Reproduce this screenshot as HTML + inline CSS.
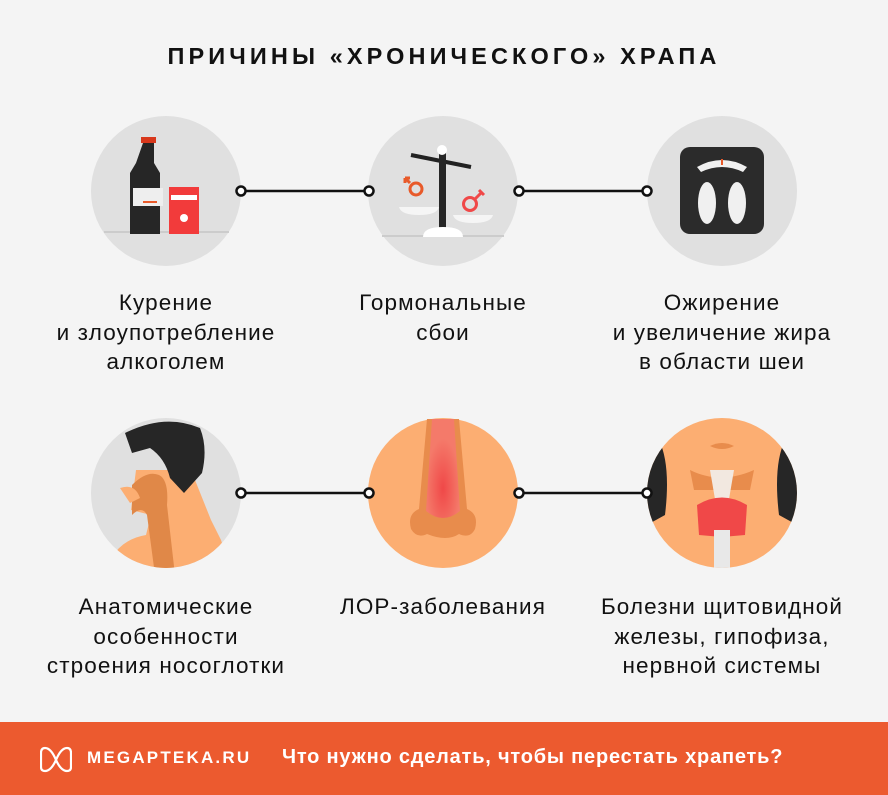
<!DOCTYPE html>
<html><head><meta charset="utf-8"><style>
body{margin:0;width:888px;height:795px;background:#f4f4f4;font-family:"Liberation Sans",sans-serif;overflow:hidden;position:relative}
.t{position:absolute;top:43px;left:0;width:888px;text-align:center;font-weight:bold;font-size:23.5px;letter-spacing:4.1px;color:#111}
.l{position:absolute;width:360px;text-align:center;font-size:22.5px;letter-spacing:1.1px;line-height:29.5px;color:#111}
.f{position:absolute;left:0;top:722px;width:888px;height:73px;background:#ec5a2f;color:#fff;font-weight:bold}
</style></head><body>
<div class="t">ПРИЧИНЫ «ХРОНИЧЕСКОГО» ХРАПА</div>
<svg width="888" height="722" style="position:absolute;left:0;top:0">
<defs><clipPath id="c4"><circle cx="166" cy="493" r="75"/></clipPath><clipPath id="c6"><circle cx="722" cy="493" r="75"/></clipPath>
<radialGradient id="g" cx="0.5" cy="0.7" r="0.5"><stop offset="0" stop-color="#f04848"/><stop offset="1" stop-color="#f47a6a"/></radialGradient></defs>
<circle cx="166" cy="191" r="75" fill="#e0e0e0"/>
<rect x="104" y="231" width="125" height="2" fill="#ccc"/>
<rect x="141" y="137" width="15" height="6" fill="#d8381c"/>
<path d="M143 143h11v20l6 10v61h-30v-61l6-10z" fill="#262626"/>
<rect x="133" y="188" width="30" height="18" fill="#eee"/><rect x="143" y="201" width="14" height="2" fill="#e85a2a"/>
<rect x="169" y="187" width="30" height="47" fill="#f23b3b"/><rect x="171" y="195" width="26" height="5" fill="#fff"/>
<circle cx="184" cy="218" r="4" fill="#fff"/>
<circle cx="443" cy="191" r="75" fill="#e0e0e0"/>
<rect x="382" y="235" width="122" height="2" fill="#ccc"/>
<path d="M411 155l60 12" stroke="#222" stroke-width="4"/>
<rect x="439" y="152" width="7" height="78" fill="#262626"/><circle cx="442" cy="150" r="5" fill="#fff"/>
<path d="M423 237q0-10 20-10q20 0 20 10z" fill="#fff"/>
<path d="M399 207h40q-2 8-20 8q-18 0-20-8zM453 215h40q-2 8-20 8q-18 0-20-8z" fill="#f5f5f5"/>
<circle cx="416" cy="189" r="6" fill="none" stroke="#e85a2a" stroke-width="3"/><path d="M410 183l-5-5m0 0h5m-5 0v5" stroke="#e85a2a" stroke-width="3"/>
<circle cx="470" cy="204" r="6.5" fill="none" stroke="#f04848" stroke-width="3"/><path d="M475 199l7-7m-3 -2l5 5" stroke="#f04848" stroke-width="3"/>
<circle cx="722" cy="191" r="75" fill="#e0e0e0"/>
<rect x="680" y="147" width="84" height="87" rx="10" fill="#2b2b2b"/>
<path d="M697 167q25-14 50 0l-4 5q-21-10-42 0z" fill="#f0f0f0"/><rect x="721" y="159" width="2" height="6" fill="#e85a2a"/>
<ellipse cx="707" cy="203" rx="9" ry="21" fill="#f0f0f0"/><ellipse cx="737" cy="203" rx="9" ry="21" fill="#f0f0f0"/>
<circle cx="166" cy="493" r="75" fill="#e0e0e0"/>
<g clip-path="url(#c4)">
<path d="M106 570q10-30 40-35l5-20-20-5 5-40 55 0 20 50 10 20 10 30z" fill="#fcae72"/>
<path d="M125 433q40-20 75 -5q8 20 2 45l-18 20-14-15q-5-20-20-30l-18 5z" fill="#262626"/>
<path d="M132 485q15-15 27-10 10 5 8 30l8 70h-20l-8-60q-5-10-15 0z" fill="#e08848"/>
<path d="M120 488q15-5 20 10l-10 5z" fill="#fcae72"/></g>
<circle cx="443" cy="493" r="75" fill="#fcae72"/>
<path d="M427 419h32l8 90q12 5 8 20-5 10-16 5-12 8-32 0-10 5-16-5-4-15 8-20z" fill="#e88c4c"/>
<path d="M432 419h22l6 92q-17 14-34 0z" fill="url(#g)"/>
<circle cx="722" cy="493" r="75" fill="#fcae72"/>
<g clip-path="url(#c6)">
<path d="M647 470q5-20 12-30 12 25 6 75l-18 10zM797 470q-5-20-12-30-12 25-6 75l18 10z" fill="#262626"/>
<path d="M690 470q30 15 64 0l-4 20h-56z" fill="#e88c4c"/>
<path d="M710 470h24l-6 35h-12z" fill="#f2e8e0"/>
<path d="M697 505q25-15 50 0l-2 30-23 2-23-2z" fill="#f04848"/>
<rect x="714" y="530" width="16" height="40" fill="#e8e8e8"/>
<path d="M710 446q12-6 24 0q-12 6-24 0z" fill="#e88c4c"/></g>
<g stroke="#111" stroke-width="2.5" fill="#fff">
<line x1="241" y1="191" x2="369" y2="191"/><line x1="519" y1="191" x2="647" y2="191"/>
<line x1="241" y1="493" x2="369" y2="493"/><line x1="519" y1="493" x2="647" y2="493"/>
<circle cx="241" cy="191" r="4.5"/><circle cx="369" cy="191" r="4.5"/><circle cx="519" cy="191" r="4.5"/><circle cx="647" cy="191" r="4.5"/>
<circle cx="241" cy="493" r="4.5"/><circle cx="369" cy="493" r="4.5"/><circle cx="519" cy="493" r="4.5"/><circle cx="647" cy="493" r="4.5"/>
</g>
</svg>
<div class="l" style="left:-14px;top:288px">Курение<br>и злоупотребление<br>алкоголем</div>
<div class="l" style="left:263px;top:288px">Гормональные<br>сбои</div>
<div class="l" style="left:542px;top:288px">Ожирение<br>и увеличение жира<br>в области шеи</div>
<div class="l" style="left:-14px;top:592px">Анатомические<br>особенности<br>строения носоглотки</div>
<div class="l" style="left:263px;top:592px">ЛОР-заболевания</div>
<div class="l" style="left:542px;top:592px">Болезни щитовидной<br>железы, гипофиза,<br>нервной системы</div>
<div class="f">
<svg width="32" height="28" style="position:absolute;left:40px;top:23px"><path d="M5 3q-4 0-4 5v14q0 4 4 4M27 3q4 0 4 5v14q0 4-4 4M5 3q6 0 11 12q5-12 11-12M5 26q6 0 11-11q5 11 11 11" fill="none" stroke="#fff" stroke-width="2.2"/></svg>
<div style="position:absolute;left:87px;top:26px;font-size:17px;letter-spacing:2.2px">MEGAPTEKA.RU</div>
<div style="position:absolute;left:282px;top:24px;font-size:20px;letter-spacing:0.8px">Что нужно сделать, чтобы перестать храпеть?</div>
</div>
</body></html>
